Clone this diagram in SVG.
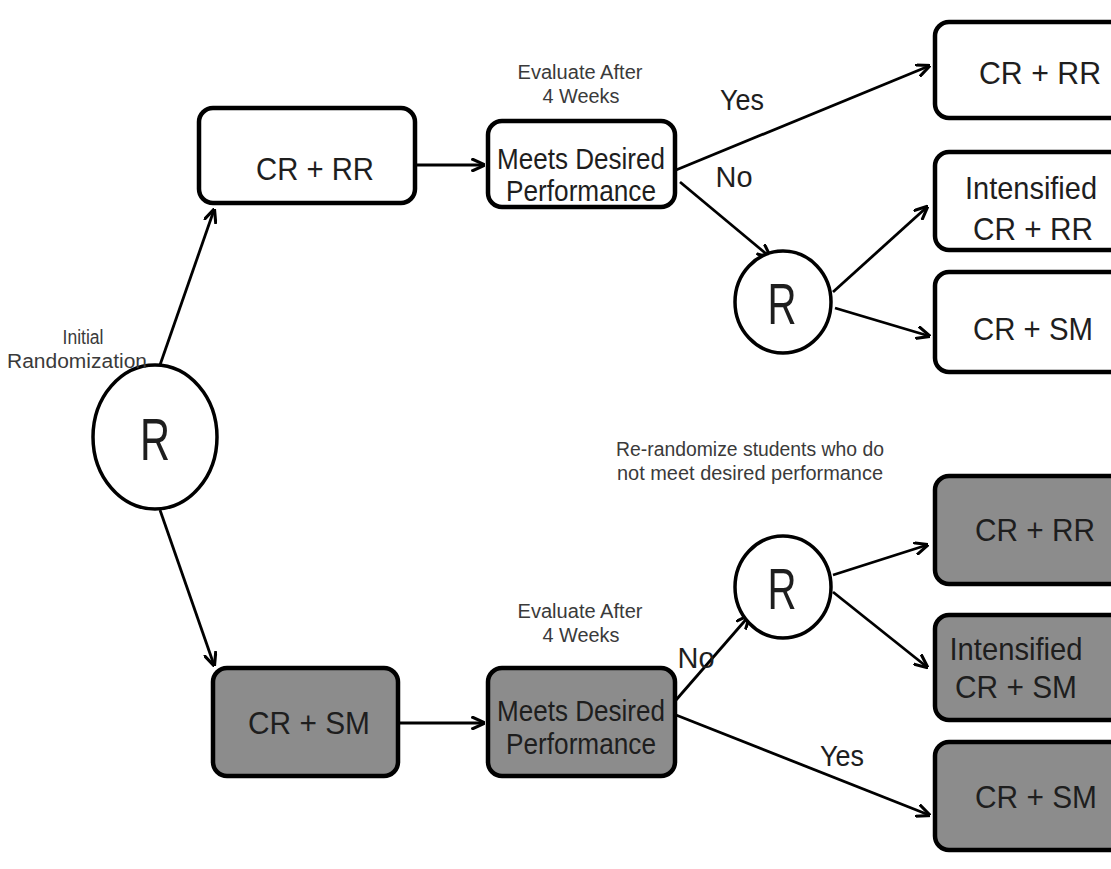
<svg xmlns="http://www.w3.org/2000/svg" width="1111" height="869" viewBox="0 0 1111 869">
<defs>
<marker id="ah" viewBox="0 0 10 10" refX="9" refY="5" markerWidth="14" markerHeight="14" markerUnits="userSpaceOnUse" orient="auto">
<path d="M0,0.5 L10,5 L0,9.5" fill="none" stroke="#000" stroke-width="2.2"/>
</marker>
<style>
.box{fill:#fff;stroke:#000;stroke-width:4.5}
.g{fill:#8c8c8c}
.c{fill:#fff;stroke:#000;stroke-width:3.5}
.t{font-family:"Liberation Sans",Arial,sans-serif;fill:#1e1e1e;text-anchor:middle}
.big{font-size:32px}
.mid{font-size:29px}
.sm{font-size:20px;fill:#3a3a3a}
.lab{font-size:29px}
.conn line{stroke:#000;stroke-width:2.8;marker-end:url(#ah)}
</style>
</defs>
<rect width="1111" height="869" fill="#fff"/>

<g class="conn">
<line x1="160" y1="365" x2="214" y2="210"/>
<line x1="160" y1="510" x2="214" y2="665"/>
<line x1="415" y1="165" x2="484" y2="165"/>
<line x1="398" y1="723" x2="484" y2="723"/>
<line x1="676" y1="170" x2="929" y2="66"/>
<line x1="680" y1="182" x2="770" y2="257"/>
<line x1="833" y1="292" x2="927" y2="207"/>
<line x1="835" y1="308" x2="929" y2="336"/>
<line x1="676" y1="700" x2="749" y2="616"/>
<line x1="833" y1="575" x2="927" y2="545"/>
<line x1="833" y1="592" x2="927" y2="667"/>
<line x1="676" y1="715" x2="929" y2="815"/>
</g>

<g id="R0"><ellipse class="c" cx="155" cy="437" rx="62" ry="72"/><text class="t" x="155" y="460" font-size="60" textLength="30" lengthAdjust="spacingAndGlyphs">R</text></g>
<g id="n1"><rect class="box" x="199" y="108" width="216" height="95" rx="14"/><text class="t big" x="315" y="180" textLength="118" lengthAdjust="spacingAndGlyphs">CR + RR</text></g>
<g id="n2"><rect class="box" x="488" y="121" width="187" height="86" rx="14"/><text class="t mid" x="581" y="169" textLength="168" lengthAdjust="spacingAndGlyphs">Meets Desired</text><text class="t mid" x="581" y="201" textLength="150" lengthAdjust="spacingAndGlyphs">Performance</text></g>
<g id="n3"><rect class="box g" x="213" y="668" width="185" height="108" rx="14"/><text class="t big" x="309" y="734" textLength="122" lengthAdjust="spacingAndGlyphs">CR + SM</text></g>
<g id="n4"><rect class="box g" x="488" y="668" width="187" height="108" rx="14"/><text class="t mid" x="581" y="721" textLength="168" lengthAdjust="spacingAndGlyphs">Meets Desired</text><text class="t mid" x="581" y="754" textLength="150" lengthAdjust="spacingAndGlyphs">Performance</text></g>
<g id="R1"><ellipse class="c" cx="783" cy="302" rx="48" ry="51"/><text class="t" x="782" y="324" font-size="58" textLength="29" lengthAdjust="spacingAndGlyphs">R</text></g>
<g id="R2"><ellipse class="c" cx="783" cy="587" rx="48" ry="51"/><text class="t" x="782" y="609" font-size="58" textLength="29" lengthAdjust="spacingAndGlyphs">R</text></g>
<g id="o1"><rect class="box" x="935" y="22" width="200" height="96" rx="14"/><text class="t big" x="1040" y="84" textLength="122" lengthAdjust="spacingAndGlyphs">CR + RR</text></g>
<g id="o2"><rect class="box" x="935" y="152" width="200" height="98" rx="14"/><text class="t big" x="1031" y="199" textLength="132" lengthAdjust="spacingAndGlyphs">Intensified</text><text class="t big" x="1033" y="240" textLength="120" lengthAdjust="spacingAndGlyphs">CR + RR</text></g>
<g id="o3"><rect class="box" x="935" y="272" width="200" height="100" rx="14"/><text class="t big" x="1033" y="340" textLength="120" lengthAdjust="spacingAndGlyphs">CR + SM</text></g>
<g id="o4"><rect class="box g" x="935" y="476" width="200" height="108" rx="14"/><text class="t big" x="1035" y="541" textLength="120" lengthAdjust="spacingAndGlyphs">CR + RR</text></g>
<g id="o5"><rect class="box g" x="935" y="615" width="200" height="105" rx="14"/><text class="t big" x="1016" y="660" textLength="133" lengthAdjust="spacingAndGlyphs">Intensified</text><text class="t big" x="1016" y="698" textLength="122" lengthAdjust="spacingAndGlyphs">CR + SM</text></g>
<g id="o6"><rect class="box g" x="935" y="742" width="200" height="108" rx="14"/><text class="t big" x="1036" y="808" textLength="122" lengthAdjust="spacingAndGlyphs">CR + SM</text></g>

<g id="labels">
<text class="t sm" x="83" y="344" textLength="41" lengthAdjust="spacingAndGlyphs">Initial</text>
<text class="t sm" x="77" y="368" textLength="140" lengthAdjust="spacingAndGlyphs">Randomization</text>
<text class="t sm" x="580" y="79" textLength="125" lengthAdjust="spacingAndGlyphs">Evaluate After</text>
<text class="t sm" x="581" y="103" textLength="77" lengthAdjust="spacingAndGlyphs">4 Weeks</text>
<text class="t sm" x="580" y="618" textLength="125" lengthAdjust="spacingAndGlyphs">Evaluate After</text>
<text class="t sm" x="581" y="642" textLength="77" lengthAdjust="spacingAndGlyphs">4 Weeks</text>
<text class="t sm" x="750" y="456" textLength="268" lengthAdjust="spacingAndGlyphs">Re-randomize students who do</text>
<text class="t sm" x="750" y="480" textLength="266" lengthAdjust="spacingAndGlyphs">not meet desired performance</text>
<text class="t lab" x="742" y="110" textLength="44" lengthAdjust="spacingAndGlyphs">Yes</text>
<text class="t lab" x="734" y="187" textLength="37" lengthAdjust="spacingAndGlyphs">No</text>
<text class="t lab" x="696" y="668" textLength="37" lengthAdjust="spacingAndGlyphs">No</text>
<text class="t lab" x="842" y="766" textLength="44" lengthAdjust="spacingAndGlyphs">Yes</text>
</g>
</svg>
